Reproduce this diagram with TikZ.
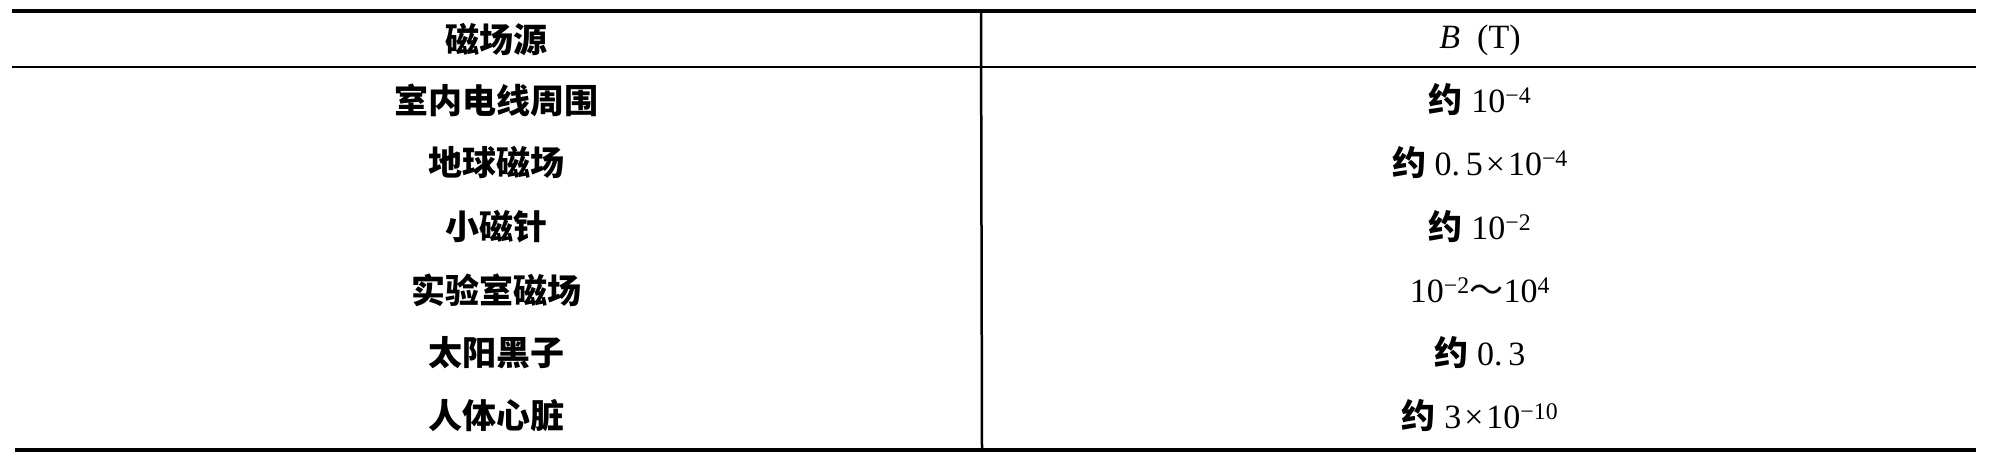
\documentclass[tikz,border=0pt]{standalone}
\usepackage{fontspec}
\setmainfont{Liberation Serif}
\newfontfamily\cjk{Noto Sans CJK SC}
\tikzset{
  cell/.style={inner sep=0pt, anchor=center, font=\fontsize{34}{38}\selectfont},
  thickrule/.style={line width=4pt, line cap=butt},
  thinrule/.style={line width=2.5pt, line cap=butt},
}
\newcommand{\zh}[1]{{\cjk\bfseries #1}}
\newcommand{\sups}[1]{\textsuperscript{#1}}
\newcommand{\tms}{\hspace{3pt}×\hspace{3pt}}
\begin{document}
\begin{tikzpicture}[x=1pt,y=-1pt]
\useasboundingbox (0,0) rectangle (1989,456);
% rules
\coordinate (tl) at (12,11);
\coordinate (tr) at (1976,11);
\coordinate (hl) at (12,67);
\coordinate (hr) at (1976,67);
\coordinate (bl) at (15,450);
\coordinate (br) at (1976,450);
\coordinate (vt) at (981,11);
\coordinate (vb) at (982,450);
\draw[thickrule] (tl) -- (tr);
\draw[thinrule] (hl) -- (hr);
\draw[thickrule] (bl) -- (br);
\draw[thinrule] (vt) -- (vb);
% header
\node[cell] (h1) at (496,40) {\zh{磁场源}};
\node[cell] (h2) at (1480,40) {\textit{B}\enspace(T)};
% column 1
\node[cell] (a1) at (496,100) {\zh{室内电线周围}};
\node[cell] (a2) at (496,163) {\zh{地球磁场}};
\node[cell] (a3) at (496,227) {\zh{小磁针}};
\node[cell] (a4) at (496,290) {\zh{实验室磁场}};
\node[cell] (a5) at (496,353) {\zh{太阳黑子}};
\node[cell] (a6) at (496,416) {\zh{人体心脏}};
% column 2
\node[cell] (b1) at (1480,100) {\zh{约}\ 10\sups{−4}};
\node[cell] (b2) at (1480,163) {\zh{约}\ 0.\,5\tms10\sups{−4}};
\node[cell] (b3) at (1480,227) {\zh{约}\ 10\sups{−2}};
\node[cell] (b4) at (1480,290) {10\sups{−2}{\cjk ～}10\sups{4}};
\node[cell] (b5) at (1480,353) {\zh{约}\ 0.\,3};
\node[cell] (b6) at (1480,416) {\zh{约}\ 3\tms10\sups{−10}};
\end{tikzpicture}
\end{document}
